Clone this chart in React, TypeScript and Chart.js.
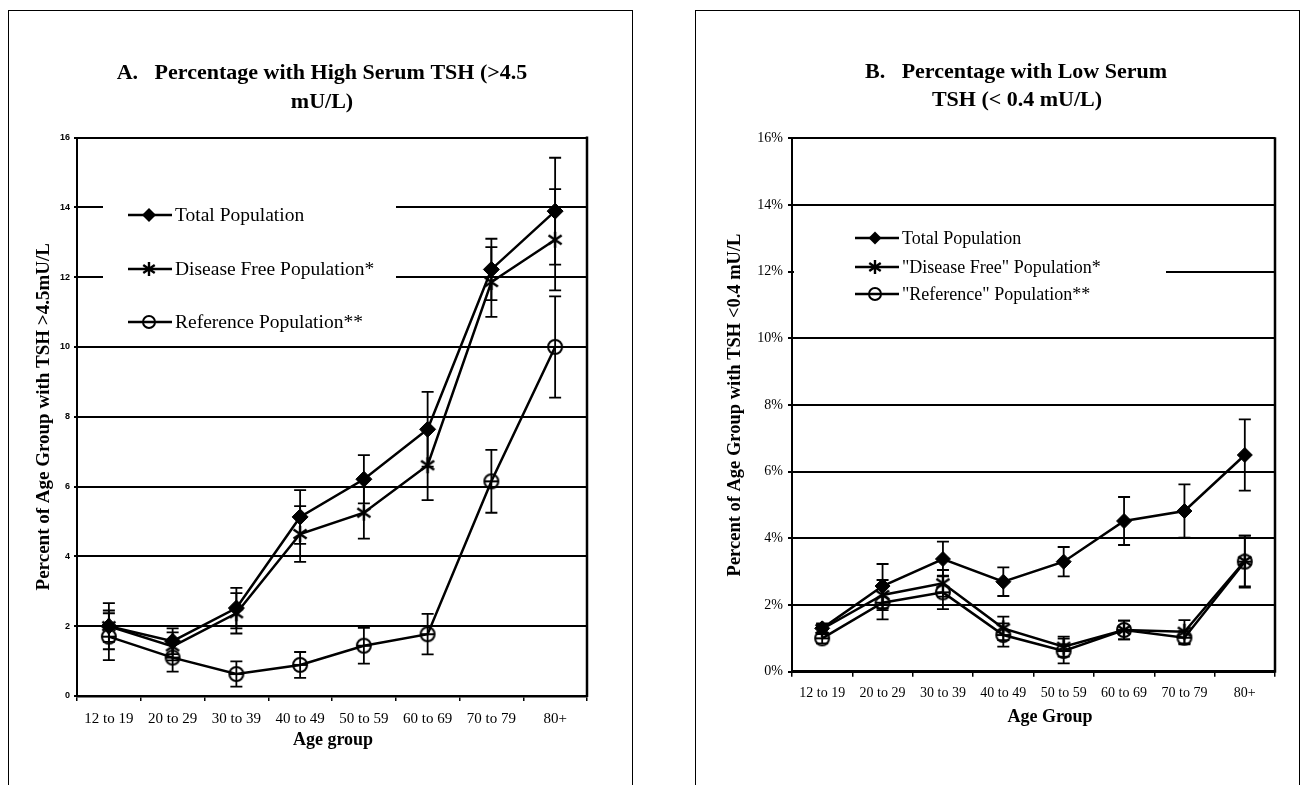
import React, { useEffect, useRef } from "react";
import { Chart, registerables } from "chart.js";

Chart.register(...registerables);

// ---------------- DATA ----------------
const ageGroups = ["12 to 19", "20 to 29", "30 to 39", "40 to 49", "50 to 59", "60 to 69", "70 to 79", "80+"];

// Panel A: % with high serum TSH (>4.5 mU/L)
const highTotal = [2.0, 1.57, 2.52, 5.13, 6.21, 7.64, 12.22, 13.89];
const highTotalErr = [0.66, 0.37, 0.58, 0.77, 0.69, 1.07, 0.88, 1.53];
const highDiseaseFree = [2.0, 1.42, 2.37, 4.64, 5.25, 6.61, 11.86, 13.07];
const highDiseaseFreeErr = [0.45, 0.4, 0.58, 0.8, 0.74, 1.0, 1.0, 1.45];
const highReference = [1.7, 1.1, 0.63, 0.89, 1.44, 1.77, 6.15, 10.0];
const highReferenceErr = [0.67, 0.4, 0.36, 0.37, 0.51, 0.58, 0.9, 1.45];
const highTicks = [0, 2, 4, 6, 8, 10, 12, 14, 16];
const highLegend = ["Total Population", "Disease Free Population*", "Reference Population**"];

// Panel B: % with low serum TSH (<0.4 mU/L)
const lowTotal = [1.3, 2.57, 3.38, 2.7, 3.3, 4.52, 4.82, 6.5];
const lowTotalErr = [0.15, 0.66, 0.52, 0.43, 0.44, 0.72, 0.8, 1.07];
const lowDiseaseFree = [1.28, 2.3, 2.65, 1.3, 0.75, 1.25, 1.2, 3.32];
const lowDiseaseFreeErr = [0.15, 0.45, 0.4, 0.35, 0.3, 0.28, 0.35, 0.76];
const lowReference = [1.0, 2.07, 2.38, 1.1, 0.62, 1.25, 1.02, 3.3];
const lowReferenceErr = [0.15, 0.5, 0.5, 0.35, 0.37, 0.28, 0.2, 0.78];
const lowTicks = [0, 2, 4, 6, 8, 10, 12, 14, 16];
const lowLegend = ["Total Population", "\"Disease Free\" Population*", "\"Reference\" Population**"];

// ---------------- MARKERS ----------------
function makeAsterisk(size: number, lw: number) {
  const c = document.createElement("canvas");
  c.width = size;
  c.height = size;
  const g = c.getContext("2d")!;
  g.strokeStyle = "#000";
  g.lineWidth = lw;
  const m = size / 2;
  const r = size / 2 - 1;
  g.beginPath();
  g.moveTo(m, m - r);
  g.lineTo(m, m + r);
  const a = (35 * Math.PI) / 180;
  const dx = r * Math.cos(a);
  const dy = r * Math.sin(a);
  g.moveTo(m - dx, m - dy);
  g.lineTo(m + dx, m + dy);
  g.moveTo(m + dx, m - dy);
  g.lineTo(m - dx, m + dy);
  g.stroke();
  return c;
}

function makeBarCircle(size: number, r: number, lw: number) {
  const c = document.createElement("canvas");
  c.width = size;
  c.height = size;
  const g = c.getContext("2d")!;
  g.strokeStyle = "#000";
  g.lineWidth = lw;
  const m = size / 2;
  g.beginPath();
  g.arc(m, m, r, 0, Math.PI * 2);
  g.stroke();
  g.beginPath();
  g.moveTo(m - r, m);
  g.lineTo(m + r, m);
  g.stroke();
  return c;
}

// ---------------- PLUGINS ----------------
type TextItem = { text: string; x: number; y: number; font: string };

function textPlugin(id: string, items: TextItem[]) {
  return {
    id,
    afterDraw(chart: any) {
      const ctx = chart.ctx;
      ctx.save();
      ctx.fillStyle = "#000";
      ctx.textAlign = "center";
      ctx.textBaseline = "middle";
      items.forEach((t) => {
        ctx.font = t.font;
        ctx.fillText(t.text, t.x, t.y);
      });
      ctx.restore();
    },
  };
}

type LegendSpec = {
  box: { x: number; y: number; w: number; h: number };
  lineX1: number;
  lineX2: number;
  markerX: number;
  textX: number;
  ys: number[];
  font: string;
  diamondR: number;
};

function legendAndErrorPlugin(spec: LegendSpec, markers: any[]) {
  return {
    id: "legendErr",
    beforeDatasetsDraw(chart: any) {
      const ctx = chart.ctx;
      ctx.save();
      // white legend box over grid lines
      ctx.fillStyle = "#fff";
      ctx.fillRect(spec.box.x, spec.box.y, spec.box.w, spec.box.h);
      // error bars
      const xs = chart.scales.x;
      const ys = chart.scales.y;
      ctx.strokeStyle = "#000";
      ctx.lineWidth = 1.8;
      chart.data.datasets.forEach((ds: any) => {
        const errs = ds.errors as number[];
        if (!errs) return;
        ds.data.forEach((v: number, i: number) => {
          const px = xs.getPixelForValue(i);
          const top = ys.getPixelForValue(v + errs[i]);
          const bot = ys.getPixelForValue(v - errs[i]);
          ctx.beginPath();
          ctx.moveTo(px, top);
          ctx.lineTo(px, bot);
          ctx.moveTo(px - 6, top);
          ctx.lineTo(px + 6, top);
          ctx.moveTo(px - 6, bot);
          ctx.lineTo(px + 6, bot);
          ctx.stroke();
        });
      });
      ctx.restore();
    },
    afterDatasetsDraw(chart: any) {
      const ctx = chart.ctx;
      const area = chart.chartArea;
      ctx.save();
      // right frame border
      ctx.strokeStyle = "#000";
      ctx.lineWidth = 2.5;
      ctx.beginPath();
      ctx.moveTo(area.right, area.top - 1);
      ctx.lineTo(area.right, area.bottom + 1);
      ctx.stroke();
      // legend entries
      chart.data.datasets.forEach((ds: any, i: number) => {
        const y = spec.ys[i];
        ctx.strokeStyle = "#000";
        ctx.lineWidth = 2.5;
        ctx.beginPath();
        ctx.moveTo(spec.lineX1, y);
        ctx.lineTo(spec.lineX2, y);
        ctx.stroke();
        const mk = markers[i];
        if (mk === "diamond") {
          const r = spec.diamondR;
          ctx.fillStyle = "#000";
          ctx.beginPath();
          ctx.moveTo(spec.markerX - r, y);
          ctx.lineTo(spec.markerX, y - r);
          ctx.lineTo(spec.markerX + r, y);
          ctx.lineTo(spec.markerX, y + r);
          ctx.closePath();
          ctx.fill();
        } else {
          ctx.drawImage(mk, spec.markerX - mk.width / 2, y - mk.height / 2);
        }
        ctx.fillStyle = "#000";
        ctx.font = spec.font;
        ctx.textAlign = "left";
        ctx.textBaseline = "middle";
        ctx.fillText(ds.label, spec.textX, y + 1);
      });
      ctx.restore();
    },
  };
}

// ---------------- CONFIG BUILDERS ----------------
type PanelCfg = {
  w: number;
  h: number;
  area: { left: number; right: number; top: number; bottom: number };
  series: number[][];
  errors: number[][];
  labels: string[];
  ticks: number[];
  tickFormat: (v: number) => string;
  yTickFont: any;
  yTickLen: number;
  yTickPad: number;
  xTickFont: any;
  xTickPad: number;
  yTitle: string;
  yTitleSize: number;
  yTitlePad: number;
  diamondR: number;
  legend: LegendSpec;
  texts: TextItem[];
};

function buildConfig(p: PanelCfg) {
  const star = makeAsterisk(18, 2.4);
  const circ = makeBarCircle(18, 7, 2);
  const legStar = makeAsterisk(16, 2.4);
  const legCirc = makeBarCircle(16, 6, 2);
  const styles: any[] = ["rectRot", star, circ];
  const datasets = p.series.map((data, i) => ({
    label: p.labels[i],
    data,
    errors: p.errors[i],
    borderColor: "#000",
    borderWidth: 2.5,
    backgroundColor: "#000",
    pointStyle: styles[i],
    pointRadius: i === 0 ? p.diamondR : 8,
    pointHoverRadius: i === 0 ? p.diamondR : 8,
    pointBackgroundColor: "#000",
    pointBorderColor: "#000",
    pointBorderWidth: 1,
    tension: 0,
    fill: false,
  }));
  return {
    type: "line",
    data: { labels: ageGroups, datasets },
    options: {
      responsive: false,
      animation: false,
      devicePixelRatio: 1,
      layout: {
        padding: { top: p.area.top, left: 0, right: p.w - p.area.right, bottom: 0 },
      },
      plugins: {
        legend: { display: false },
        tooltip: { enabled: false },
        title: { display: false },
      },
      scales: {
        x: {
          type: "category",
          offset: true,
          afterFit: (s: any) => {
            s.height = p.h - p.area.bottom;
          },
          grid: {
            offset: true,
            drawOnChartArea: false,
            drawTicks: true,
            tickLength: 5,
            color: "#000",
            lineWidth: 1.5,
          },
          border: { display: true, color: "#000", width: 2.5 },
          ticks: {
            color: "#000",
            font: p.xTickFont,
            padding: p.xTickPad,
            autoSkip: false,
            maxRotation: 0,
          },
        },
        y: {
          type: "linear",
          min: p.ticks[0],
          max: p.ticks[p.ticks.length - 1],
          afterFit: (s: any) => {
            s.width = p.area.left;
          },
          afterBuildTicks: (s: any) => {
            s.ticks = p.ticks.map((v) => ({ value: v }));
          },
          grid: {
            color: "#000",
            lineWidth: 2,
            drawTicks: true,
            tickLength: p.yTickLen,
          },
          border: { display: true, color: "#000", width: 2 },
          ticks: {
            color: "#000",
            font: p.yTickFont,
            padding: p.yTickPad,
            callback: (v: any) => p.tickFormat(Number(v)),
          },
          title: {
            display: true,
            text: p.yTitle,
            color: "#000",
            font: { family: "Liberation Serif", size: p.yTitleSize, weight: "bold" },
            padding: { top: p.yTitlePad, bottom: 0 },
          },
        },
      },
    },
    plugins: [
      legendAndErrorPlugin(p.legend, ["diamond", legStar, legCirc]),
      textPlugin("texts", p.texts),
    ],
  };
}

const titleFont = "bold 22px 'Liberation Serif'";
const axisTitleFont = "bold 18px 'Liberation Serif'";

function panelA(): PanelCfg {
  return {
    w: 623,
    h: 774,
    area: { left: 68, right: 578, top: 126.5, bottom: 685 },
    series: [highTotal, highDiseaseFree, highReference],
    errors: [highTotalErr, highDiseaseFreeErr, highReferenceErr],
    labels: highLegend,
    ticks: highTicks,
    tickFormat: (v) => String(v),
    yTickFont: { family: "Liberation Sans", size: 9, weight: "bold" },
    yTickLen: 3,
    yTickPad: 4,
    xTickFont: { family: "Liberation Serif", size: 15 },
    xTickPad: 9,
    yTitle: "Percent of Age Group with TSH >4.5mU/L",
    yTitleSize: 19,
    yTitlePad: 24,
    diamondR: 8,
    legend: {
      box: { x: 94, y: 169, w: 293, h: 155 },
      lineX1: 119,
      lineX2: 163,
      markerX: 140,
      textX: 166,
      ys: [204, 258, 311],
      font: "19.5px 'Liberation Serif'",
      diamondR: 7,
    },
    texts: [
      { text: "A.   Percentage with High Serum TSH (>4.5", x: 313, y: 62, font: titleFont },
      { text: "mU/L)", x: 313, y: 91, font: titleFont },
      { text: "Age group", x: 324, y: 729, font: axisTitleFont },
    ],
  };
}

function panelB(): PanelCfg {
  return {
    w: 603,
    h: 774,
    area: { left: 96, right: 579, top: 127.3, bottom: 660.7 },
    series: [lowTotal, lowDiseaseFree, lowReference],
    errors: [lowTotalErr, lowDiseaseFreeErr, lowReferenceErr],
    labels: lowLegend,
    ticks: lowTicks,
    tickFormat: (v) => v + "%",
    yTickFont: { family: "Liberation Serif", size: 14 },
    yTickLen: 4,
    yTickPad: 5,
    xTickFont: { family: "Liberation Serif", size: 14 },
    xTickPad: 8,
    yTitle: "Percent of Age Group with TSH <0.4 mU/L",
    yTitleSize: 18.5,
    yTitlePad: 28,
    diamondR: 7.5,
    legend: {
      box: { x: 98, y: 204, w: 372, h: 105 },
      lineX1: 159,
      lineX2: 203,
      markerX: 179,
      textX: 206,
      ys: [227, 256, 283],
      font: "18px 'Liberation Serif'",
      diamondR: 6.5,
    },
    texts: [
      { text: "B.   Percentage with Low Serum", x: 320, y: 61, font: titleFont },
      { text: "TSH (< 0.4 mU/L)", x: 321, y: 89, font: titleFont },
      { text: "Age Group", x: 354, y: 706, font: axisTitleFont },
    ],
  };
}

// ---------------- COMPONENTS ----------------
function ChartCanvas({ make, w, h }: { make: () => PanelCfg; w: number; h: number }) {
  const ref = useRef<HTMLCanvasElement | null>(null);
  useEffect(() => {
    if (!ref.current) return;
    Chart.defaults.font.family = "'Liberation Serif'";
    Chart.defaults.color = "#000";
    const chart = new Chart(ref.current, buildConfig(make()) as any);
    return () => chart.destroy();
  }, [make]);
  return <canvas ref={ref} width={w} height={h} style={{ display: "block", width: w, height: h }} />;
}

export default function App() {
  const panelStyle: React.CSSProperties = {
    position: "absolute",
    top: 2,
    height: 775,
    boxSizing: "border-box",
    border: "1px solid #000",
    borderBottom: "none",
    background: "#fff",
  };
  return (
    <div style={{ position: "relative", width: 1292, height: 777, background: "#fff" }}>
      <div style={{ ...panelStyle, left: 0, width: 625 }}>
        <ChartCanvas make={panelA} w={623} h={774} />
      </div>
      <div style={{ ...panelStyle, left: 687, width: 605 }}>
        <ChartCanvas make={panelB} w={603} h={774} />
      </div>
    </div>
  );
}
